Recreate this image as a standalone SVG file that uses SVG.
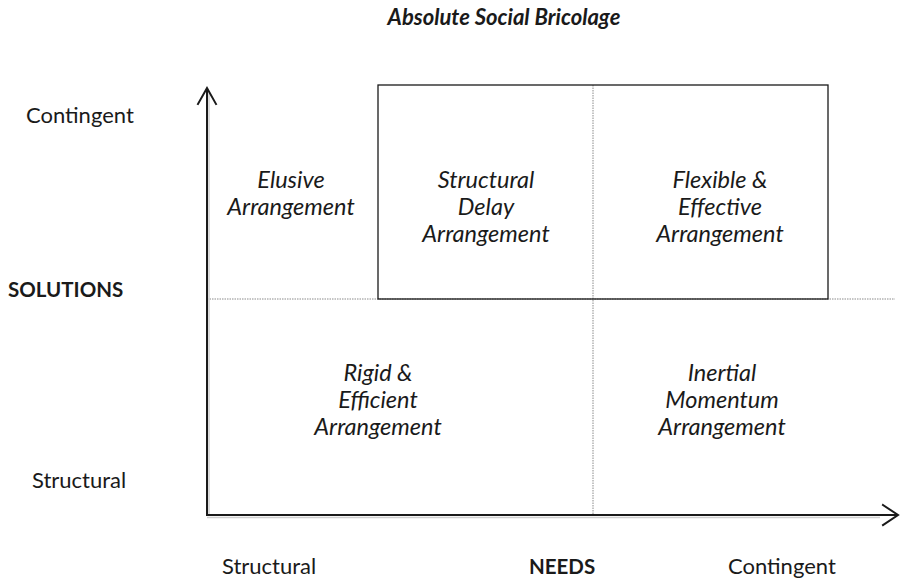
<svg xmlns="http://www.w3.org/2000/svg" width="900" height="581" viewBox="0 0 900 581">
<style>
.t{font-family:Lato,"Liberation Sans",sans-serif;fill:#1a1a1a;font-size:22px}
.i{font-style:italic;text-anchor:middle;font-size:23.5px}
.b{font-weight:bold;font-size:20.5px}
.ttl{font-weight:bold;font-style:italic;text-anchor:middle;font-size:22px}
.ax{stroke:#1a1a1a;stroke-width:2;fill:none;stroke-linecap:square}
.sh{stroke:#cfcfcf;stroke-width:1.5;fill:none}
.dot{stroke:#8a8a8a;stroke-width:1;stroke-dasharray:1.5 1;fill:none}
.box{stroke:#1a1a1a;stroke-width:1.3;fill:none}
</style>
<rect width="900" height="581" fill="#fff"/>
<text id="title" class="t ttl" x="504" y="25">Absolute Social Bricolage</text>
<g id="axis-labels">
<text class="t" x="26" y="123">Contingent</text>
<text class="t b" x="8" y="297">SOLUTIONS</text>
<text class="t" x="32" y="488">Structural</text>
<text class="t" x="222" y="574">Structural</text>
<text class="t b" x="529" y="574">NEEDS</text>
<text class="t" x="728" y="574">Contingent</text>
</g>
<g id="connectors">
<line class="dot" x1="207" y1="299" x2="895" y2="299"/>
<line class="dot" x1="593" y1="85" x2="593" y2="515"/>
<rect id="box" class="box" x="378" y="85" width="450" height="214"/>
<line class="sh" x1="209" y1="92" x2="209" y2="514"/>
<line class="sh" x1="207" y1="517.5" x2="880" y2="517.5"/>
<line class="ax" x1="207" y1="90" x2="207" y2="515"/>
<polyline class="ax" points="198,104 207,88 216,104" stroke-linecap="round" stroke-linejoin="miter"/>
<line class="ax" x1="207" y1="515" x2="896" y2="515"/>
<polyline class="ax" points="883,505 898,515 883,525" stroke-linecap="round"/>
</g>
<g id="elusive"><text class="t i" x="291" y="188">Elusive</text><text class="t i" x="291" y="215">Arrangement</text></g>
<g id="structural-delay"><text class="t i" x="486" y="188">Structural</text><text class="t i" x="486" y="215">Delay</text><text class="t i" x="486" y="242">Arrangement</text></g>
<g id="flexible"><text class="t i" x="720" y="188">Flexible &amp;</text><text class="t i" x="720" y="215">Effective</text><text class="t i" x="720" y="242">Arrangement</text></g>
<g id="rigid"><text class="t i" x="378" y="381">Rigid &amp;</text><text class="t i" x="378" y="408">Efficient</text><text class="t i" x="378" y="435">Arrangement</text></g>
<g id="inertial"><text class="t i" x="722" y="381">Inertial</text><text class="t i" x="722" y="408">Momentum</text><text class="t i" x="722" y="435">Arrangement</text></g>
</svg>
